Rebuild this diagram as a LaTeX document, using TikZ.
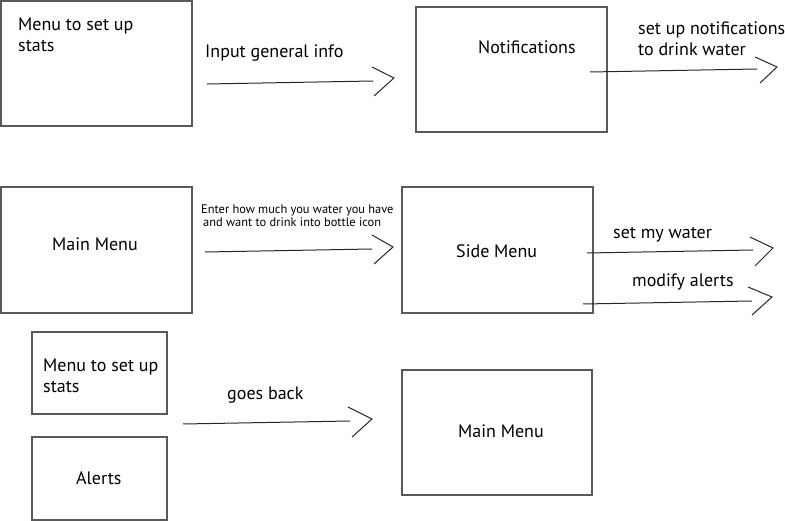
\documentclass[tikz,border=0pt]{standalone}
\usepackage{fontspec}
\setmainfont{PT Sans}
\usetikzlibrary{positioning}

\tikzset{
  screen/.style={draw=black!65, line width=1.3pt, outer sep=0pt, anchor=north west},
  lbl/.style={anchor=base west, inner sep=0pt, align=left, font=\fontsize{18}{21.5}\selectfont},
  small/.style={anchor=base west, inner sep=0pt, align=left, font=\fontsize{12.4}{13.5}\selectfont},
  link/.style={draw=black!85, line width=1pt}
}

\begin{document}
\begin{tikzpicture}[x=1pt, y=-1pt]
    \useasboundingbox (0,0) rectangle (785,521);

    % Screens
    \node[screen, minimum width=191pt, minimum height=125pt] (stats) at (1,1) {};
    \node[screen, minimum width=191pt, minimum height=125pt] (notif) at (416,7) {};
    \node[screen, minimum width=191pt, minimum height=126pt] (main) at (1,187) {};
    \node[screen, minimum width=191pt, minimum height=126pt] (side) at (402,187) {};
    \node[screen, minimum width=135pt, minimum height=82pt] (statsback) at (32,332) {};
    \node[screen, minimum width=135pt, minimum height=83pt] (alerts) at (32,437) {};
    \node[screen, minimum width=190pt, minimum height=125pt] (mainback) at (402,370) {};

    % Screen titles (multi-line ones sit on their last baseline)
    \node[lbl] (statsT) at (18,52) {Menu to set up\\stats};
    \node[lbl] (notifT) at (478,54) {Notifications};
    \node[lbl] (mainT) at (52,251) {Main Menu};
    \node[lbl] (sideT) at (456,258) {Side Menu};
    \node[lbl] (statsbackT) at (43,393) {Menu to set up\\stats};
    \node[lbl] (alertsT) at (76,484) {Alerts};
    \node[lbl] (mainbackT) at (458,438) {Main Menu};

    % Arrow ends
    \coordinate (a1s) at (207,84);  \coordinate (a1e) at (373,81);  \coordinate (a1t) at (394,78);
    \coordinate (a2s) at (590,72);  \coordinate (a2e) at (757,69);  \coordinate (a2t) at (777,67);
    \coordinate (a3s) at (205,252); \coordinate (a3e) at (372,249); \coordinate (a3t) at (393,247);
    \coordinate (a4s) at (587,253); \coordinate (a4e) at (753,250); \coordinate (a4t) at (773,248);
    \coordinate (a5s) at (583,304); \coordinate (a5e) at (752,301); \coordinate (a5t) at (772,297);
    \coordinate (a6s) at (183,424); \coordinate (a6e) at (350,421); \coordinate (a6t) at (372,419);

    % Arrows
    \draw[link] (a1s) -- (a1e);
    \draw[link] (a1t) ++(-22,-11) -- (a1t) -- ++(-20,18);
    \draw[link] (a2s) -- (a2e);
    \draw[link] (a2t) ++(-22,-10) -- (a2t) -- ++(-17,16);
    \draw[link] (a3s) -- (a3e);
    \draw[link] (a3t) ++(-21,-12) -- (a3t) -- ++(-19,17);
    \draw[link] (a4s) -- (a4e);
    \draw[link] (a4t) ++(-23,-11) -- (a4t) -- ++(-18,18);
    \draw[link] (a5s) -- (a5e);
    \draw[link] (a5t) ++(-24,-10) -- (a5t) -- ++(-20,18);
    \draw[link] (a6s) -- (a6e);
    \draw[link] (a6t) ++(-24,-12) -- (a6t) -- ++(-20,18);

    % Arrow labels
    \node[lbl] (a1L) at (205,58) {Input general info};
    \node[lbl] (a2L) at (638,56) {set up notifications\\to drink water};
    \node[small] (a3L) at (201,227) {Enter how much you water you have\\\hspace*{2pt}and want to drink into bottle icon};
    \node[lbl] (a4L) at (613,239) {set my water};
    \node[lbl] (a5L) at (632,287) {modify alerts};
    \node[lbl] (a6L) at (227,400) {goes back};
\end{tikzpicture}
\end{document}
